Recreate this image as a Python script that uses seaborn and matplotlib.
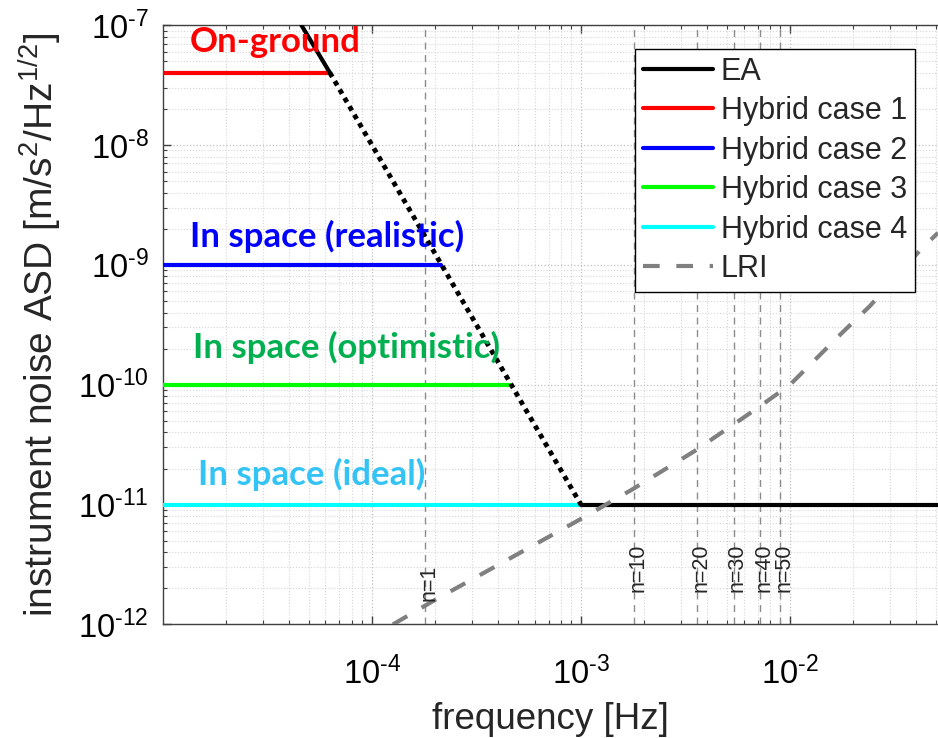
import numpy as np
import pandas as pd
import matplotlib
matplotlib.use("Agg")
import matplotlib.pyplot as plt
import matplotlib.ticker as mticker
import matplotlib.transforms as mtransforms
import seaborn as sns

# ---------------- data ----------------
ea_top_freq = [4.6e-5, 6.3e-5]
ea_top_asd = [1.0e-7, 4.0e-8]
ea_dot_freq = [6.3e-5, 1.0e-3]
ea_dot_asd = [4.0e-8, 1.0e-11]
ea_flat_freq = [1.0e-3, 5.1e-2]
ea_flat_asd = [1.0e-11, 1.0e-11]

hybrid_labels = ["Hybrid case 1", "Hybrid case 2", "Hybrid case 3", "Hybrid case 4"]
hybrid_level = [4.0e-8, 1.0e-9, 1.0e-10, 1.0e-11]
hybrid_start = [1.0e-5, 1.0e-5, 1.0e-5, 1.0e-5]
hybrid_end = [6.3e-5, 2.15e-4, 4.64e-4, 1.0e-3]

lri_freq = [1.26e-4, 2.0e-4, 4.1e-4, 1.0e-3, 1.75e-3, 3.5e-3, 7.0e-3,
            1.0e-2, 1.77e-2, 2.4e-2, 4.2e-2, 5.1e-2]
lri_asd = [1.0e-12, 1.6e-12, 3.2e-12, 7.6e-12, 1.33e-11, 2.8e-11, 6.4e-11,
           1.0e-10, 2.7e-10, 4.5e-10, 1.33e-9, 1.85e-9]

orbit_freq = 1.8e-4
harmonic_n = [1, 10, 20, 30, 40, 50]

x_major_ticks = [1e-4, 1e-3, 1e-2]
y_major_ticks = [1e-12, 1e-11, 1e-10, 1e-9, 1e-8, 1e-7]

region_texts = ["On-ground", "In space (realistic)", "In space (optimistic)", "In space (ideal)"]

# ---------------- styles ----------------
hybrid_colors = ["#ff0000", "#0000ff", "#00ff00", "#00ffff"]
text_colors = ["#ff0000", "#0000ff", "#00b050", "#33c3f4"]
text_pos = [(1.35e-5, 5.96e-8), (1.35e-5, 1.41e-9), (1.40e-5, 1.68e-10), (1.47e-5, 1.47e-11)]

sns.set_style("ticks")
plt.rcParams["font.family"] = ["Liberation Sans", "DejaVu Sans"]
plt.rcParams["mathtext.fontset"] = "custom"
plt.rcParams["mathtext.rm"] = "Liberation Sans"
plt.rcParams["mathtext.it"] = "Liberation Sans:italic"
plt.rcParams["mathtext.bf"] = "Liberation Sans:bold"

fig = plt.figure(figsize=(9.38, 7.38), dpi=100)
ax = fig.add_axes([0.1735, 0.1538, 0.8265, 0.8123])
ax.set_xscale("log")
ax.set_yscale("log")

# harmonics vertical lines
for n in harmonic_n:
    ax.axvline(n * orbit_freq, color="#8c8c8c", lw=1.0, ls=(0, (5, 4)), zorder=1.5)

handles = {}
for lab, lvl, s, e, c in zip(hybrid_labels, hybrid_level, hybrid_start, hybrid_end, hybrid_colors):
    df = pd.DataFrame({"f": [s, e], "a": [lvl, lvl]})
    sns.lineplot(data=df, x="f", y="a", ax=ax, color=c, lw=3, label=lab, zorder=3)
    handles[lab] = ax.lines[-1]

df = pd.DataFrame({"f": ea_top_freq, "a": ea_top_asd})
sns.lineplot(data=df, x="f", y="a", ax=ax, color="black", lw=3, label="EA", zorder=4)
handles["EA"] = ax.lines[-1]
df = pd.DataFrame({"f": ea_dot_freq, "a": ea_dot_asd})
sns.lineplot(data=df, x="f", y="a", ax=ax, color="black", lw=3.5, linestyle=(0, (1, 1)), zorder=4)
df = pd.DataFrame({"f": ea_flat_freq, "a": ea_flat_asd})
sns.lineplot(data=df, x="f", y="a", ax=ax, color="black", lw=3, zorder=4)

df = pd.DataFrame({"f": lri_freq, "a": lri_asd})
sns.lineplot(data=df, x="f", y="a", ax=ax, color="#808080", lw=3, linestyle=(0, (4, 4)),
             label="LRI", zorder=5)
handles["LRI"] = ax.lines[-1]

# harmonic labels
off = mtransforms.ScaledTranslation(2.5 / 72, 0, fig.dpi_scale_trans)
for n in harmonic_n:
    yb = 1.56e-12 if n == 1 else 1.85e-12
    ax.text(n * orbit_freq, yb, f"n={n}", rotation=90, ha="center", va="bottom",
            fontsize=15.5, color="#262626", transform=ax.transData + off, zorder=6)

# region annotations
for t, c, (x, y) in zip(region_texts, text_colors, text_pos):
    ax.text(x, y, t, color=c, fontsize=25, fontweight="bold", family=["Lato", "DejaVu Sans"],
            ha="left", va="baseline", zorder=7)

xlim = (1e-5, 5.1e-2)
ylim = (1e-12, 1e-7)
ax.set_xlim(*xlim)
ax.set_ylim(*ylim)


def minor_in(lo, hi):
    out = []
    for d in range(int(np.floor(np.log10(lo))), int(np.ceil(np.log10(hi))) + 1):
        for s in range(2, 10):
            v = s * 10.0 ** d
            if lo < v < hi:
                out.append(v)
    return out


ax.xaxis.set_major_locator(mticker.FixedLocator(x_major_ticks))
ax.yaxis.set_major_locator(mticker.FixedLocator(y_major_ticks))
ax.xaxis.set_minor_locator(mticker.FixedLocator(minor_in(*xlim)))
ax.yaxis.set_minor_locator(mticker.FixedLocator(minor_in(*ylim)))
ax.xaxis.set_minor_formatter(mticker.NullFormatter())
ax.yaxis.set_minor_formatter(mticker.NullFormatter())


def pow10(v, pos):
    e = int(round(np.log10(v)))
    sign = r"\text{-}" if e < 0 else ""
    return r"$\mathregular{10^{%s%d}}$" % (sign, abs(e))


ax.xaxis.set_major_formatter(mticker.FuncFormatter(pow10))
ax.yaxis.set_major_formatter(mticker.FuncFormatter(pow10))

ax.grid(True, which="major", ls=":", color="#c0c0c0", lw=0.9, zorder=0)
ax.grid(True, which="minor", ls=":", color="#d6d6d6", lw=0.8, zorder=0)
ax.set_axisbelow(True)

for side in ["left", "bottom", "top"]:
    ax.spines[side].set_color("#404040")
    ax.spines[side].set_linewidth(1.0)
ax.spines["right"].set_visible(False)
ax.tick_params(which="both", direction="in", top=True, right=False, colors="#404040",
               labelcolor="black", labelsize=23.5)
ax.tick_params(which="major", length=6, width=1)
ax.tick_params(which="minor", length=3, width=0.8)
ax.tick_params(axis="x", pad=23)
ax.tick_params(axis="y", pad=10)

ax.set_xlabel("frequency [Hz]", fontsize=26.5, labelpad=8)
ax.set_ylabel("instrument noise ASD [m/s$^2$/Hz$^{1/2}$]", fontsize=28, labelpad=10)

order = ["EA"] + hybrid_labels + ["LRI"]
leg = ax.legend([handles[k] for k in order], order, loc="upper right",
                bbox_to_anchor=(0.970, 0.96), fontsize=22, frameon=True, fancybox=False,
                framealpha=1, edgecolor="black", borderpad=0.25, labelspacing=0.31,
                handlelength=2.3, handletextpad=0.25, borderaxespad=0)
leg.get_frame().set_linewidth(1.0)
leg.set_zorder(10)

fig.savefig("out.png", dpi=100)
